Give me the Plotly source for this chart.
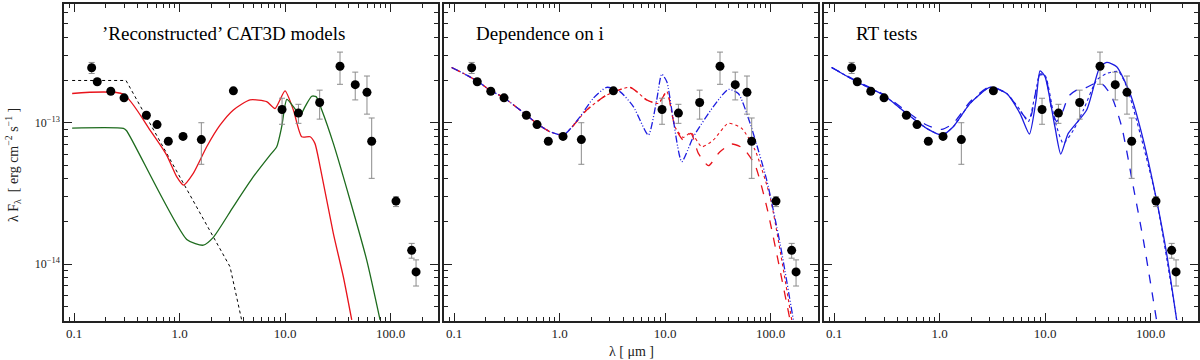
import plotly.graph_objects as go
from plotly.subplots import make_subplots

# observed photometry (micron, erg cm^-2 s^-1)
lam_obs = [0.147, 0.166, 0.223, 0.298, 0.485, 0.612, 0.783, 1.08, 1.61, 3.24,
           9.37, 13.4, 21.3, 33.2, 46.3, 59.8, 66.3, 112.7, 158.6, 174.6]
flux_obs = [2.45e-13, 1.95e-13, 1.67e-13, 1.50e-13, 1.13e-13, 9.7e-14, 7.4e-14, 8.0e-14, 7.6e-14, 1.68e-13,
            1.24e-13, 1.17e-13, 1.39e-13, 2.51e-13, 1.86e-13, 1.64e-13, 7.4e-14, 2.79e-14, 1.25e-14, 8.8e-15]
flux_hi = [2.67e-13, 1.95e-13, 1.67e-13, 1.50e-13, 1.13e-13, 9.7e-14, 7.4e-14, 8.0e-14, 1.0e-13, 1.68e-13,
           1.49e-13, 1.35e-13, 1.70e-13, 3.16e-13, 2.28e-13, 2.14e-13, 1.08e-13, 2.99e-14, 1.40e-14, 1.07e-14]
flux_lo = [2.23e-13, 1.95e-13, 1.67e-13, 1.50e-13, 1.13e-13, 9.7e-14, 7.4e-14, 8.0e-14, 5.08e-14, 1.68e-13,
           9.75e-14, 9.9e-14, 1.06e-13, 1.87e-13, 1.45e-13, 1.15e-13, 4.04e-14, 2.55e-14, 1.10e-14, 6.99e-15]

# panel 1: reconstructed CAT3D models
lam_disk = [0.096, 0.311, 3.01, 3.88]
flux_disk = [1.99e-13, 1.99e-13, 9.57e-15, 4.02e-15]

lam_red1 = [0.096, 0.294, 0.525, 0.755, 0.94, 1.09, 1.35, 1.81, 2.42, 3.24, 4.66, 6.7, 8.04, 10.0,
            12.0, 14.4, 17.3, 19.2, 21.5, 28.7, 35.7, 42.9]
flux_red1 = [1.61e-13, 1.59e-13, 8.87e-14, 5.9e-14, 4.15e-14, 3.62e-14, 4.38e-14, 6.76e-14, 9.6e-14, 1.23e-13,
             1.45e-13, 1.41e-13, 1.26e-13, 1.68e-13, 1.23e-13, 7.96e-14, 7.96e-14, 7.14e-14, 4.89e-14, 1.65e-14,
             8.13e-15, 4.02e-15]

lam_grn1 = [0.096, 0.294, 0.315, 1.17, 1.68, 2.09, 3.24, 5.01, 7.21, 8.34, 9.30, 10.4, 12.0, 13.9,
            15.5, 17.9, 19.7, 22.3, 28.7, 41.3, 59.4, 79.6]
flux_grn1 = [9.17e-14, 9.12e-14, 8.78e-14, 1.494e-14, 1.36e-14, 1.545e-14, 2.55e-14, 4.15e-14, 5.9e-14, 6.76e-14,
             9.37e-14, 1.46e-13, 1.30e-13, 1.13e-13, 1.30e-13, 1.54e-13, 1.53e-13, 1.23e-13, 7.14e-14, 2.84e-14,
             1.07e-14, 4.02e-15]

# panel 2: dependence on inclination
lam_uv = [0.095, 0.132, 0.170, 0.219, 0.294, 0.489, 0.608, 0.813, 1.09]
flux_uv = [2.46e-13, 2.17e-13, 1.95e-13, 1.70e-13, 1.51e-13, 1.13e-13, 9.9e-14, 8.63e-14, 8.18e-14]

lam_i1 = lam_uv + [1.56, 2.09, 2.80, 3.74, 5.01, 6.95, 8.34, 9.30, 10.4, 11.6, 14.4, 18.6, 28.7, 39.8,
                   49.5, 64.0, 92.0, 123.0, 164.6]
flux_i1 = flux_uv + [1.10e-13, 1.49e-13, 1.78e-13, 1.66e-13, 1.30e-13, 8.18e-14, 1.45e-13, 2.21e-13, 1.95e-13,
                     1.23e-13, 5.30e-14, 7.96e-14, 1.30e-13, 1.72e-13, 1.61e-13, 9.9e-14, 3.93e-14, 1.40e-14,
                     4.02e-15]

lam_i2 = lam_uv + [1.81, 2.80, 4.66, 6.70, 8.65, 10.4, 12.4, 14.9, 17.6, 20.7, 25.8, 33.2, 42.9, 55.2,
                   71.3, 92.0, 153.0]
flux_i2 = flux_uv + [1.23e-13, 1.57e-13, 1.78e-13, 1.45e-13, 1.37e-13, 1.66e-13, 9.37e-14, 7.54e-14, 8.4e-14,
                     6.07e-14, 4.97e-14, 6.24e-14, 7.07e-14, 6.58e-14, 5.01e-14, 2.55e-14, 4.02e-15]

lam_i3 = lam_uv + [1.81, 2.80, 4.66, 6.70, 8.65, 10.4, 12.4, 14.9, 17.6, 22.3, 28.7, 39.8, 53.3, 71.3,
                   98.9, 158.8]
flux_i3 = flux_uv + [1.23e-13, 1.57e-13, 1.78e-13, 1.45e-13, 1.37e-13, 1.66e-13, 9.37e-14, 7.87e-14, 8.5e-14,
                     6.76e-14, 7.54e-14, 9.9e-14, 9.12e-14, 6.41e-14, 2.99e-14, 4.02e-15]

# panel 3: radiative transfer tests
lam_rt1 = [0.095, 0.164, 0.294, 0.489, 0.755, 1.05, 1.35, 1.95, 3.01, 4.33, 5.80, 7.11, 8.23, 8.97, 10.0,
           12.4, 14.1, 16.6, 24.8, 33.2, 38.5, 47.8, 64.0, 85.5, 114.0, 142.0, 177.0]
flux_rt1 = [2.46e-13, 1.95e-13, 1.57e-13, 1.16e-13, 9.12e-14, 8.18e-14, 9.37e-14, 1.37e-13, 1.78e-13, 1.61e-13,
            1.16e-13, 8.32e-14, 1.45e-13, 2.33e-13, 2.12e-13, 9.37e-14, 6.0e-14, 8.4e-14, 1.23e-13, 2.49e-13,
            2.67e-13, 2.49e-13, 1.61e-13, 7.54e-14, 2.84e-14, 1.19e-14, 4.02e-15]

lam_rt2 = [0.095, 0.164, 0.294, 0.489, 0.755, 1.05, 1.35, 1.95, 3.01, 4.33, 6.24, 7.11, 8.97, 10.0, 11.6,
           12.9, 14.9, 16.6, 19.9, 24.8, 30.9, 35.7, 42.9, 53.3, 68.7, 85.5, 114.0]
flux_rt2 = [2.46e-13, 1.97e-13, 1.59e-13, 1.20e-13, 9.63e-14, 8.97e-14, 9.9e-14, 1.41e-13, 1.80e-13, 1.61e-13,
            1.13e-13, 1.03e-13, 2.21e-13, 2.17e-13, 1.23e-13, 1.02e-13, 1.23e-13, 1.53e-13, 1.70e-13, 1.78e-13,
            1.92e-13, 1.85e-13, 1.53e-13, 9.37e-14, 3.52e-14, 1.48e-14, 4.02e-15]

lam_rt3 = [0.095, 0.164, 0.294, 0.489, 0.755, 1.05, 1.35, 1.95, 3.01, 4.33, 5.80, 6.95, 8.97, 10.0, 12.4,
           14.9, 18.6, 23.1, 30.9, 38.5, 49.5, 59.4, 79.6, 114.0, 177.0]
flux_rt3 = [2.46e-13, 1.95e-13, 1.57e-13, 1.16e-13, 9.12e-14, 8.18e-14, 9.37e-14, 1.37e-13, 1.78e-13, 1.61e-13,
            1.23e-13, 1.02e-13, 2.17e-13, 2.17e-13, 1.04e-13, 7.14e-14, 8.87e-14, 1.23e-13, 2.0e-13, 2.23e-13,
            2.30e-13, 1.80e-13, 8.4e-14, 2.84e-14, 4.02e-15]

panel_titles = ["’Reconstructed’ CAT3D models", "Dependence on i", "RT tests"]
x_ticks = [0.1, 1.0, 10.0, 100.0]
x_ticktext = ["0.1", "1.0", "10.0", "100.0"]
y_ticks = [1e-14, 1e-13]
y_ticktext = ["10<sup>−14</sup>", "10<sup>−13</sup>"]

FONT = "Liberation Serif"
RED = "#e8131b"
GREEN = "#1d6b1d"
BLUE = "#1c1ce0"

fig = make_subplots(rows=1, cols=3)


def curve(lam, flux, col, color, dash="solid", shape="spline", width=1.3):
    fig.add_trace(go.Scatter(x=lam, y=flux, mode="lines",
                             line=dict(color=color, width=width, dash=dash, shape=shape, smoothing=0.6)),
                  row=1, col=col)


curve(lam_disk, flux_disk, 1, "black", "dot", "linear", 1.0)
curve(lam_red1, flux_red1, 1, RED)
curve(lam_grn1, flux_grn1, 1, GREEN)

curve(lam_i3, flux_i3, 2, RED, "dot", width=1.1)
curve(lam_i2, flux_i2, 2, RED, "dash")
curve(lam_i1, flux_i1, 2, BLUE, "7px,2px,1px,2px,1px,2px")

curve(lam_rt3, flux_rt3, 3, BLUE, "dot", width=1.1)
curve(lam_rt2, flux_rt2, 3, BLUE, "dash")
curve(lam_rt1, flux_rt1, 3, BLUE)

err_plus = [h - f for h, f in zip(flux_hi, flux_obs)]
err_minus = [f - l for f, l in zip(flux_obs, flux_lo)]
for c in (1, 2, 3):
    fig.add_trace(go.Scatter(
        x=lam_obs, y=flux_obs, mode="markers",
        marker=dict(color="black", size=9),
        error_y=dict(type="data", symmetric=False, array=err_plus, arrayminus=err_minus,
                     color="#8c8c8c", thickness=1, width=3),
    ), row=1, col=c)

doms = [(64, 438), (444, 818), (824, 1198)]
minor_x = [m * 10.0 ** e for e in (-2, -1, 0, 1, 2) for m in range(2, 10)]
minor_y = [m * 10.0 ** e for e in (-15, -14, -13) for m in range(2, 10)]
for i, (a, b) in enumerate(doms, start=1):
    fig.update_xaxes(type="log", range=[-1.095, 2.45], domain=[a / 1200, b / 1200],
                     tickvals=x_ticks, ticktext=x_ticktext, ticks="inside", ticklen=8,
                     tickcolor="#222", showline=True, linecolor="#222", linewidth=1.5, mirror="ticks",
                     showgrid=False, zeroline=False,
                     minor=dict(tickmode="array", tickvals=minor_x, ticks="inside", ticklen=4,
                                tickcolor="#222", showgrid=False),
                     tickfont=dict(family=FONT, size=13, color="#222"), row=1, col=i)
    fig.update_yaxes(type="log", range=[-14.403, -12.16], domain=[39 / 360, 356 / 360],
                     tickvals=y_ticks, ticktext=y_ticktext, ticks="inside", ticklen=8,
                     tickcolor="#222", showline=True, linecolor="#222", linewidth=1.5, mirror="ticks",
                     showgrid=False, zeroline=False, showticklabels=(i == 1),
                     minor=dict(tickmode="array", tickvals=minor_y, ticks="inside", ticklen=4,
                                tickcolor="#222", showgrid=False),
                     tickfont=dict(family=FONT, size=12, color="#222"), row=1, col=i)

title_x = [100, 474, 854]
for i, (t, x) in enumerate(zip(panel_titles, title_x)):
    fig.add_annotation(text=t, x=x / 1200, y=1 - 33 / 360, xref="paper", yref="paper",
                       xanchor="left", yanchor="middle", showarrow=False,
                       font=dict(family=FONT, size=19, color="black"))

fig.add_annotation(text="λ [ μm ]", x=631 / 1200, y=1 - 351 / 360, xref="paper", yref="paper",
                   xanchor="center", yanchor="middle", showarrow=False,
                   font=dict(family=FONT, size=14, color="#222"))
fig.add_annotation(text="λ F<sub>λ</sub>  [ erg cm<sup>−2</sup> s<sup>−1</sup> ]",
                   x=13 / 1200, y=1 - 165 / 360, xref="paper", yref="paper", textangle=-90,
                   xanchor="center", yanchor="middle", showarrow=False,
                   font=dict(family=FONT, size=14, color="#222"))

fig.update_layout(width=1200, height=360, showlegend=False,
                  margin=dict(l=0, r=0, t=0, b=0),
                  plot_bgcolor="white", paper_bgcolor="white")

# the page body has a default 8px margin; drop it so the 1200x360 figure fills the window
fig.write_html("out.html", config={"displayModeBar": False},
               post_script="document.body.style.margin='0';")
